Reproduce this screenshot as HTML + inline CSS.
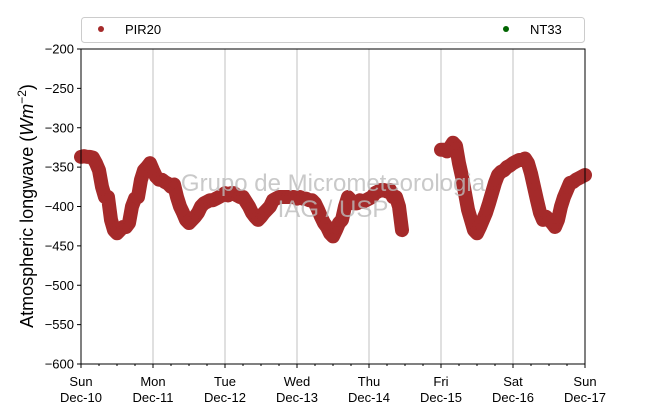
<!DOCTYPE html>
<html><head><meta charset="utf-8"><style>
body{margin:0;background:#fff;}
svg text{font-family:"Liberation Sans","DejaVu Sans",sans-serif;}
</style></head><body>
<svg id="chart" width="650" height="409" xmlns="http://www.w3.org/2000/svg">
<rect width="650" height="409" fill="#fff"/>
<g id="grid"></g>
<g id="series"></g>
<text x="333" y="191" font-size="24" fill="#bbb" fill-opacity="0.8" text-anchor="middle">Grupo de Micrometeorologia</text>
<text x="333" y="217" font-size="24" fill="#bbb" fill-opacity="0.8" text-anchor="middle">IAG / USP</text>
<rect x="81" y="49" width="504" height="315" fill="none" stroke="#000" stroke-width="1"/>
<g id="axes"></g>
<text transform="translate(33,206) rotate(-90)" font-size="18" text-anchor="middle">Atmospheric longwave (<tspan font-style="italic">Wm</tspan><tspan font-size="12" dy="-7">−2</tspan><tspan dy="7">)</tspan></text>
<g>
<rect x="81.5" y="17.5" width="503" height="25" rx="3" fill="#fff" stroke="#ccc"/>
<circle cx="101" cy="29" r="3" fill="#a52a2a"/>
<text x="125" y="34" font-size="13">PIR20</text>
<circle cx="506" cy="29" r="3" fill="#006400"/>
<text x="530" y="34" font-size="13">NT33</text>
</g>
</svg>
<script>
const yTicks=[-200,-250,-300,-350,-400,-450,-500,-550,-600];
const dayNames=["Sun","Mon","Tue","Wed","Thu","Fri","Sat","Sun"];
const dayDates=["Dec-10","Dec-11","Dec-12","Dec-13","Dec-14","Dec-15","Dec-16","Dec-17"];
// hourly values from Sun Dec-10 00h, null = no data
const pir20=[-337,-336,-337,-337,-338,-345,-354,-375,-388,-388,-417,-430,-434,-430,-426,-426,-421,-400,-390,-388,-366,-354,-350,-345,
-354,-362,-366,-366,-369,-371,-375,-372,-388,-400,-408,-417,-421,-417,-413,-408,-400,-396,-394,-392,-392,-390,-388,-386,
-383,-386,-383,-383,-386,-388,-388,-394,-400,-408,-413,-417,-413,-408,-404,-400,-392,-390,-388,-388,-388,-388,-388,-388,
-390,-388,-390,-390,-392,-392,-396,-404,-413,-421,-426,-434,-438,-430,-421,-417,-400,-388,-392,-396,-396,-392,-394,-392,
-390,-388,-383,-381,-379,-379,-381,-379,-388,-388,-400,-430,null,null,null,null,null,null,null,null,null,null,null,null,
-328,-328,-330,-325,-319,-323,-345,-362,-383,-404,-417,-430,-434,-426,-417,-408,-396,-383,-370,-360,-356,-354,-350,-348,
-345,-343,-341,-341,-339,-345,-358,-375,-392,-408,-417,-413,-417,-421,-426,-417,-400,-388,-379,-370,-369,-366,-364,-362,-360];
const X0=81,X1=585,Y0=49,Y1=364;
const xs=h=>X0+(X1-X0)*h/168;
const ys=v=>Y0+(Y1-Y0)*(-200-v)/400;
const NS="http://www.w3.org/2000/svg";
function mk(tag,attrs,parent){const e=document.createElementNS(NS,tag);for(const k in attrs)e.setAttribute(k,attrs[k]);parent.appendChild(e);return e;}
const grid=document.getElementById('grid'),axes=document.getElementById('axes'),ser=document.getElementById('series');
for(let d=1;d<7;d++){const l=mk('line',{x1:xs(d*24),x2:xs(d*24),y1:Y0,y2:Y1,stroke:'#c0c0c0','stroke-width':1},grid);

}
yTicks.forEach(v=>{const y=ys(v);
const t=mk('line',{x1:X0-4,x2:X0,y1:y,y2:y,stroke:'#000'},axes);


const tx=mk('text',{x:X0-7,y:y+4.5,'font-size':13,'text-anchor':'end'},axes);tx.textContent=String(v).replace('-','−');

});
for(let h=0;h<=168;h+=6){const x=xs(h);const major=h%24===0;
const t=mk('line',{x1:x,x2:x,y1:Y1,y2:Y1+(major?4:2),stroke:'#000'},axes);

}
dayNames.forEach((n,i)=>{const x=xs(i*24);
const a=mk('text',{x:x,y:386,'font-size':13,'text-anchor':'middle'},axes);a.textContent=n;


const b=mk('text',{x:x,y:402,'font-size':13,'text-anchor':'middle'},axes);b.textContent=dayDates[i];

});
let seg=[];const segs=[];
pir20.forEach((v,h)=>{if(v===null){if(seg.length)segs.push(seg);seg=[];}else seg.push([xs(h),ys(v)]);});
if(seg.length)segs.push(seg);
segs.forEach(s=>{const p=mk('polyline',{points:s.map(q=>q.join(',')).join(' '),fill:'none',stroke:'#a52a2a','stroke-width':14,'stroke-linejoin':'round','stroke-linecap':'round'},ser);

});
pir20.forEach((v,h)=>{if(v===null)return;
const c=mk('circle',{cx:xs(h),cy:ys(v),r:4,fill:'#a52a2a'},ser);

});
</script>
</body></html>
